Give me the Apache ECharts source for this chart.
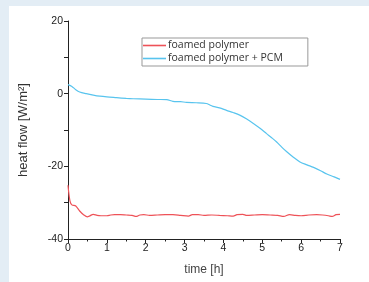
<!DOCTYPE html>
<html><head><meta charset="utf-8">
<script src="https://cdn.jsdelivr.net/npm/echarts@6/dist/echarts.min.js"></script>
<style>html,body{margin:0;padding:0;background:#fff;overflow:hidden}#c{width:369px;height:282px}</style>
</head><body><div id="c"></div>
<script>
const redTime = [0,0.05,0.1,0.2,0.3,0.4,0.5,0.55,0.65,0.75,0.85,1.0,1.1,1.2,1.35,1.5,1.65,1.75,1.85,1.95,2.1,2.3,2.5,2.7,2.9,3.1,3.2,3.35,3.5,3.7,3.9,4.1,4.25,4.35,4.5,4.6,4.8,5.0,5.2,5.4,5.55,5.7,5.85,6.0,6.2,6.4,6.55,6.7,6.8,6.9,7.0];
const redValues = [-25.2,-29.5,-30.6,-30.9,-32.3,-33.3,-33.9,-33.7,-33.2,-33.5,-33.6,-33.6,-33.4,-33.3,-33.3,-33.4,-33.5,-33.8,-33.4,-33.3,-33.5,-33.4,-33.3,-33.3,-33.5,-33.7,-33.3,-33.3,-33.5,-33.4,-33.5,-33.6,-33.7,-33.3,-33.2,-33.5,-33.4,-33.3,-33.4,-33.5,-33.8,-33.3,-33.5,-33.6,-33.4,-33.3,-33.4,-33.6,-33.8,-33.3,-33.2];
const blueTime = [0,0.1,0.2,0.3,0.47,0.65,0.82,1.0,1.25,1.5,1.68,2.0,2.3,2.54,2.7,2.9,3.05,3.3,3.56,3.65,3.73,3.9,4.08,4.25,4.42,4.6,4.77,4.95,5.11,5.25,5.37,5.5,5.63,5.8,5.97,6.15,6.32,6.5,6.66,6.85,7.0];
const blueValues = [2.5,2.0,1.1,0.46,0.0,-0.4,-0.7,-0.9,-1.1,-1.3,-1.4,-1.5,-1.6,-1.65,-2.1,-2.2,-2.4,-2.5,-2.7,-3.1,-3.5,-3.9,-4.6,-5.2,-5.9,-7.0,-8.2,-9.6,-11.0,-12.2,-13.3,-14.7,-16.0,-17.5,-18.8,-19.6,-20.3,-21.2,-22.1,-22.9,-23.6];
const yTicks = [20,0,-20,-40];
const seriesNames = ['foamed polymer','foamed polymer + PCM'];

const chart = echarts.init(document.getElementById('c'));
const font = 'Liberation Sans, Arial, sans-serif';
chart.setOption({
  animation:false,
  backgroundColor:'#fff',
  graphic:[
    {type:'rect',shape:{x:0,y:0,width:9,height:282},style:{fill:'#e3edf5'},silent:true},
    {type:'rect',shape:{x:0,y:0,width:369,height:6},style:{fill:'#e3edf5'},silent:true}
  ],
  grid:{left:68,right:29,top:21,bottom:43},
  legend:{
    left:142, top:38, orient:'vertical', itemGap:2,
    padding:[2,25,2,1], borderColor:'#999', borderWidth:1,
    itemWidth:23, itemHeight:8,
    textStyle:{fontFamily:'Open Sans, Noto Sans, sans-serif',fontSize:10.5,color:'#333',padding:[0,0,0,-3]},
    data:seriesNames.map(n=>({name:n,icon:'path://M0,0L23,0L23,1.6L0,1.6Z'}))
  },
  xAxis:{
    type:'value', min:0, max:7, interval:1,
    name:'time [h]', nameLocation:'middle', nameGap:25,
    nameTextStyle:{fontFamily:font,fontSize:12,color:'#444'},
    axisLine:{show:true,onZero:false,lineStyle:{color:'#222',width:1}},
    axisTick:{show:true,inside:false,length:4,lineStyle:{color:'#222'}},
    minorTick:{show:true,splitNumber:2,length:2.5,lineStyle:{color:'#222'}},
    axisLabel:{fontFamily:font,fontSize:10.5,color:'#222',margin:4},
    splitLine:{show:false}
  },
  yAxis:{
    type:'value', min:-40, max:20, interval:10,
    name:'heat flow [W/m²]', nameLocation:'middle', nameGap:38,
    nameTextStyle:{fontFamily:font,fontSize:13,color:'#333'},
    axisLine:{show:true,onZero:false,lineStyle:{color:'#222',width:1}},
    axisTick:{show:true,inside:false,length:4,lineStyle:{color:'#222'}},
    axisLabel:{fontFamily:font,fontSize:10.5,color:'#222',margin:5,
      formatter:v=>yTicks.includes(v)?String(v):''},
    splitLine:{show:false}
  },
  series:[
    {name:seriesNames[0],type:'line',showSymbol:false,smooth:0.3,
     lineStyle:{color:'#ee5258',width:1.2},itemStyle:{color:'#ee5258'},
     data:redTime.map((t,i)=>[t,redValues[i]])},
    {name:seriesNames[1],type:'line',showSymbol:false,smooth:0.3,
     lineStyle:{color:'#58c4ee',width:1.2},itemStyle:{color:'#58c4ee'},
     data:blueTime.map((t,i)=>[t,blueValues[i]])}
  ]
});
</script></body></html>
